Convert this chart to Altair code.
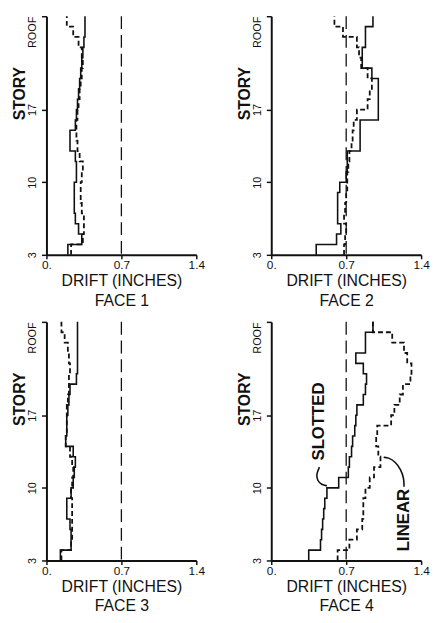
import altair as alt
import pandas as pd

# ---------------- data (drift in inches per story interval, 3 .. 25; roof = 26) -------------
STORIES = list(range(3, 26))
ROOF = 26
Y_TICKS = [3, 10, 17, 26]
X_TICKS = [0, 0.7, 1.4]
LIMIT = 0.7

face1_solid = [0.20, 0.33, 0.30, 0.27, 0.26, 0.26, 0.26, 0.28, 0.28, 0.27, 0.22, 0.22,
               0.27, 0.28, 0.29, 0.30, 0.31, 0.32, 0.33, 0.34, 0.35, 0.36, 0.36]
face1_dashed = [0.23, 0.34, 0.35, 0.35, 0.33, 0.32, 0.32, 0.33, 0.34, 0.31, 0.29, 0.28,
                0.28, 0.29, 0.30, 0.31, 0.32, 0.33, 0.34, 0.33, 0.30, 0.25, 0.19]

face2_solid = [0.42, 0.61, 0.65, 0.62, 0.62, 0.62, 0.64, 0.70, 0.71, 0.71, 0.83, 0.83,
               0.83, 1.00, 1.00, 1.00, 1.00, 0.94, 0.85, 0.85, 0.88, 0.88, 0.95]
face2_dashed = [0.68, 0.69, 0.70, 0.68, 0.69, 0.70, 0.71, 0.71, 0.72, 0.73, 0.75, 0.76,
                0.77, 0.80, 0.90, 0.92, 0.94, 0.90, 0.84, 0.82, 0.80, 0.67, 0.59]

face3_solid = [0.13, 0.23, 0.23, 0.22, 0.19, 0.19, 0.23, 0.25, 0.26, 0.27, 0.25, 0.18,
               0.19, 0.19, 0.20, 0.21, 0.22, 0.28, 0.29, 0.29, 0.29, 0.29, 0.29]
face3_dashed = [0.14, 0.23, 0.24, 0.24, 0.24, 0.24, 0.23, 0.24, 0.25, 0.24, 0.22, 0.18,
                0.19, 0.19, 0.19, 0.20, 0.21, 0.21, 0.22, 0.21, 0.20, 0.17, 0.14]

face4_slotted = [0.35, 0.46, 0.47, 0.48, 0.49, 0.50, 0.52, 0.63, 0.72, 0.73, 0.75, 0.76,
                 0.78, 0.79, 0.80, 0.86, 0.88, 0.89, 0.86, 0.79, 0.88, 0.88, 0.95]
face4_linear = [0.62, 0.73, 0.80, 0.85, 0.86, 0.86, 0.88, 0.92, 0.96, 1.02, 1.00, 0.98,
                0.99, 1.12, 1.15, 1.20, 1.23, 1.30, 1.31, 1.27, 1.24, 1.13, 0.95]

# annotations of FACE 4 (text anchor and leader curves, in drift / story units)
ann_text = ["SLOTTED", "LINEAR"]
ann_drift = [0.45, 1.24]
ann_story = [16.4, 6.9]
slotted_lead_drift = [0.45, 0.42, 0.43, 0.47, 0.52]
slotted_lead_story = [12.0, 11.3, 10.7, 10.3, 10.2]
linear_lead_drift = [1.24, 1.24, 1.21, 1.16, 1.10, 1.05]
linear_lead_story = [10.1, 10.9, 11.8, 12.5, 12.9, 12.95]

FONT = "Liberation Sans"
INK = "#111111"
W, H = 152, 242


def profile(vals):
    return pd.DataFrame({"story": STORIES + [ROOF], "drift": vals + [vals[-1]]})


def x_enc(face):
    return alt.X(
        "drift:Q",
        scale=alt.Scale(domain=[0, 1.4], nice=False, zero=False),
        axis=alt.Axis(
            values=X_TICKS,
            labelExpr="datum.value == 0 ? '0.' : format(datum.value, '.1f')",
            title=["DRIFT  (INCHES)", f"FACE {face}"],
            titleFont=FONT, titleFontSize=16, titleFontWeight="normal",
            titleLineHeight=20, titlePadding=2, titleColor=INK,
            labelFont=FONT, labelFontSize=12, labelColor=INK, labelPadding=1,
            labelFlush=False, labelOverlap=False,
            tickSize=4, tickColor=INK, tickWidth=1.5,
            domainColor=INK, domainWidth=2, grid=False,
        ),
    )


def y_enc():
    return alt.Y(
        "story:Q",
        scale=alt.Scale(domain=[3, ROOF], nice=False, zero=False),
        axis=alt.Axis(
            values=Y_TICKS,
            labelExpr="datum.value == 26 ? 'ROOF' : datum.label",
            labelAngle=270,
            labelAlign={"condition": {"test": "datum.value == 26", "value": "right"}, "value": "center"},
            labelBaseline="bottom",
            labelFont=FONT, labelFontSize=11, labelColor=INK, labelPadding=4,
            labelFlush=False, labelOverlap=False,
            title="STORY", titleAngle=270, titleX=-27, titleY=78,
            titleAlign="center", titleBaseline="middle",
            titleFont=FONT, titleFontSize=16, titleFontWeight="bold", titleColor=INK,
            tickSize=5, tickColor=INK, tickWidth=1.5,
            domainColor=INK, domainWidth=2, grid=False,
        ),
    )


def panel(face, solid, dashed, extra=None):
    s = alt.Chart(profile(solid)).mark_line(
        interpolate="step-before", color=INK, strokeWidth=1.6
    ).encode(x=x_enc(face), y=y_enc(), order="story:Q")
    d = alt.Chart(profile(dashed)).mark_line(
        interpolate="step-before", color=INK, strokeWidth=1.8, strokeDash=[5, 3]
    ).encode(x="drift:Q", y="story:Q", order="story:Q")
    ref = alt.Chart(pd.DataFrame({"limit": [LIMIT]})).mark_rule(
        color=INK, strokeWidth=1.3, strokeDash=[13, 6]
    ).encode(x="limit:Q")
    layers = [ref, s, d] + (extra or [])
    return alt.layer(*layers).properties(width=W, height=H)


ann_df = pd.DataFrame({"text": ann_text, "drift": ann_drift, "story": ann_story})
ann = alt.Chart(ann_df).mark_text(
    angle=270, font=FONT, fontSize=17, fontWeight="bold", color=INK
).encode(x="drift:Q", y="story:Q", text="text:N")
lead1 = alt.Chart(pd.DataFrame({
    "drift": slotted_lead_drift, "story": slotted_lead_story,
    "k": list(range(len(slotted_lead_drift)))})).mark_line(
    interpolate="basis", color=INK, strokeWidth=1.6
).encode(x="drift:Q", y="story:Q", order="k:Q")
lead2 = alt.Chart(pd.DataFrame({
    "drift": linear_lead_drift, "story": linear_lead_story,
    "k": list(range(len(linear_lead_drift)))})).mark_line(
    interpolate="basis", color=INK, strokeWidth=1.6
).encode(x="drift:Q", y="story:Q", order="k:Q")

p1 = panel(1, face1_solid, face1_dashed)
p2 = panel(2, face2_solid, face2_dashed)
p3 = panel(3, face3_solid, face3_dashed)
p4 = panel(4, face4_slotted, face4_linear, [ann, lead1, lead2])

top = alt.hconcat(p1, p2, spacing=32)
bottom = alt.hconcat(p3, p4, spacing=32)
chart = alt.vconcat(top, bottom, spacing=10).properties(
    padding={"left": 4, "top": 0, "right": 0, "bottom": 0},
    background="white",
).configure_view(stroke=None)

chart.save("out.html", embed_options={"renderer": "svg", "actions": False})
